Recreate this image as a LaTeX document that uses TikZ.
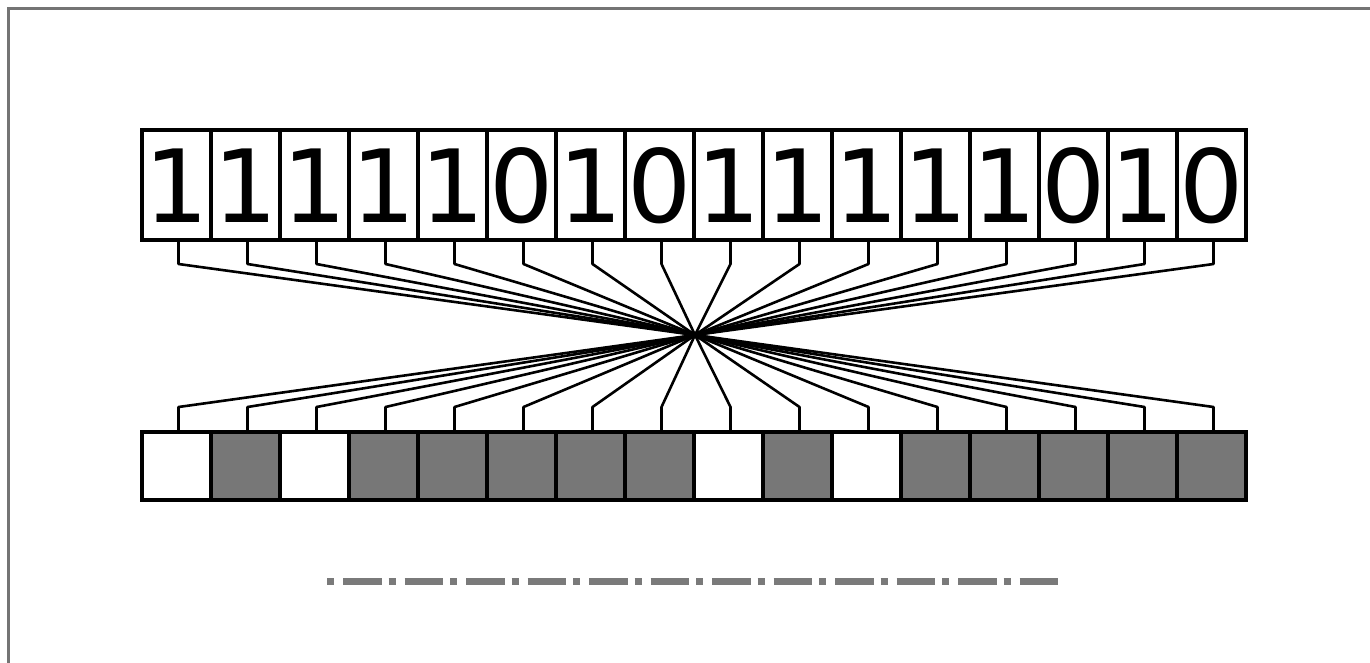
\documentclass[tikz,border=0pt]{standalone}
\usepackage{fontspec}
\setmainfont{DejaVu Sans}
\definecolor{cellgray}{HTML}{777777}
\definecolor{framegray}{HTML}{747474}
\definecolor{dashgray}{HTML}{7A7A7A}
\begin{document}
\begin{tikzpicture}[x=1pt,y=-1pt,
 bitbox/.style={draw=black,line width=3.4pt,minimum width=69pt,minimum height=110pt,inner sep=0pt,text height=74pt,text depth=0pt,font=\fontsize{101}{101}\selectfont,fill=white},
 cellW/.style={draw=black,line width=3.4pt,minimum width=69pt,minimum height=68pt,inner sep=0pt,fill=white},
 cellG/.style={cellW,fill=cellgray},
 wire/.style={line width=2.6pt,line join=round},
 frame/.style={draw=framegray,line width=3.5pt},
 dashdot/.style={draw=dashgray,line width=7pt,dash pattern=on 7pt off 9pt on 38.5pt off 7pt}]
\useasboundingbox (0,0) rectangle (1370,662);
\fill[white] (0,0) rectangle (1370,662);
\draw[frame] (1380,8.5) -- (8.5,8.5) -- (8.5,675);
% top bit boxes
\foreach \b [count=\i from 0] in {1,1,1,1,1,0,1,0,1,1,1,1,1,0,1,0}
  \node[bitbox] (t\i) at ({176.5+69*\i},185) {\b};
% bottom cells
\foreach \c [count=\i from 0] in {W,G,W,G,G,G,G,G,W,G,W,G,G,G,G,G}
  \node[cellW,cell\c] (b\i) at ({176.5+69*\i},466) {};
% crossing point and stub coordinates
\coordinate (c) at (695,335);
\foreach \i in {0,...,15} {
  \coordinate (ts\i) at ({178.5+69*\i},264);
  \coordinate (bs\i) at ({178.5+69*\i},407);
}
% wires
\foreach \i in {0,...,15} {
  \pgfmathtruncatemacro\j{15-\i}
  \draw[wire] (t\i.south -| ts\i) -- (ts\i) -- (c) -- (bs\j) -- (b\j.north -| bs\j);
}
% dash-dot line
\coordinate (d0) at (327,581);
\coordinate (d1) at (1057.5,581);
\draw[dashdot] (d0) -- (d1);
\end{tikzpicture}
\end{document}
